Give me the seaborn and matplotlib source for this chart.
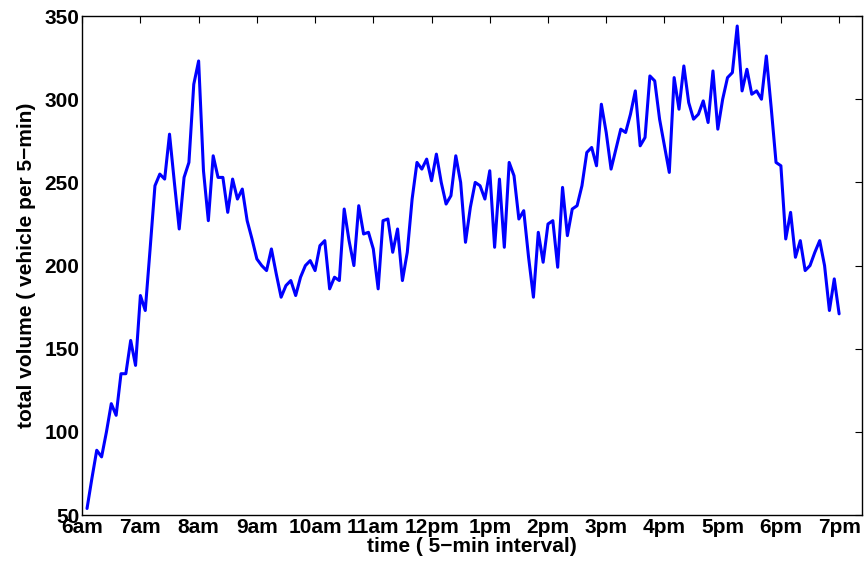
import numpy as np
import pandas as pd
import seaborn as sns
import matplotlib.pyplot as plt

volume = [54, 72, 89, 85, 100, 117, 110, 135, 135, 155, 140, 182,
          173, 210, 248, 255, 252, 279, 250, 222, 253, 262, 309, 323,
          257, 227, 266, 253, 253, 232, 252, 240, 246, 227, 216, 204,
          200, 197, 210, 195, 181, 188, 191, 182, 193, 200, 203, 197,
          212, 215, 186, 193, 191, 234, 215, 200, 236, 219, 220, 210,
          186, 227, 228, 208, 222, 191, 208, 240, 262, 258, 264, 251,
          267, 250, 237, 242, 266, 250, 214, 235, 250, 248, 240, 257,
          211, 252, 211, 262, 254, 228, 233, 205, 181, 220, 202, 225,
          227, 199, 247, 218, 234, 236, 248, 268, 271, 260, 297, 280,
          258, 270, 282, 280, 291, 305, 272, 277, 314, 311, 288, 272,
          256, 313, 294, 320, 298, 288, 291, 299, 286, 317, 282, 300,
          313, 316, 344, 305, 318, 303, 305, 300, 326, 295, 262, 260,
          216, 232, 205, 215, 197, 200, 208, 215, 200, 173, 192, 171]
tick_labels = ["6am", "7am", "8am", "9am", "10am", "11am", "12pm",
               "1pm", "2pm", "3pm", "4pm", "5pm", "6pm", "7pm"]

n = len(volume)
minutes = [19 * 60 - 5 * (n - 1 - i) for i in range(n)]
df = pd.DataFrame({"t": minutes, "v": volume})

sns.set_style("white")
plt.rcParams["font.family"] = ["Liberation Sans", "DejaVu Sans"]
plt.rcParams["font.weight"] = "bold"
plt.rcParams["text.color"] = "black"
plt.rcParams["axes.labelcolor"] = "black"
plt.rcParams["xtick.color"] = "black"
plt.rcParams["ytick.color"] = "black"

fig = plt.figure(figsize=(8.65, 5.73), dpi=100)
ax = fig.add_axes([0.095, 0.101, 0.902, 0.871])
sns.lineplot(data=df, x="t", y="v", color="#0000ff", linewidth=2.2, ax=ax)

ax.set_xlim(360, 1164)
ax.set_ylim(50, 350)
ax.set_xticks([360 + 60 * i for i in range(len(tick_labels))])
ax.set_xticklabels(tick_labels, fontsize=15, fontweight="bold")
ax.set_yticks(range(50, 351, 50))
ax.tick_params(axis="y", labelsize=15)
for lab in ax.get_yticklabels():
    lab.set_fontweight("bold")
ax.tick_params(direction="in", length=5, top=True, right=True, pad=2)
for s in ax.spines.values():
    s.set_color("black")
    s.set_linewidth(1.0)
ax.set_xlabel("time ( 5\u2212min interval)", fontsize=15, fontweight="bold", labelpad=0)
ax.set_ylabel("total volume ( vehicle per 5\u2212min)", fontsize=15, fontweight="bold", labelpad=6)

fig.savefig("out.png", dpi=100)
